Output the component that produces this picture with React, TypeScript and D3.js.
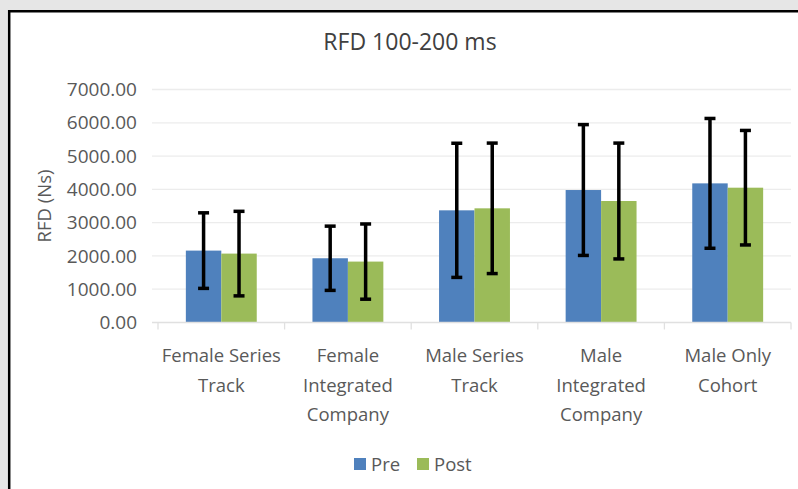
import { useEffect, useRef } from 'react';
import * as d3 from 'd3';

const categories = [
  ['Female Series', 'Track'],
  ['Female', 'Integrated', 'Company'],
  ['Male Series', 'Track'],
  ['Male', 'Integrated', 'Company'],
  ['Male Only', 'Cohort'],
];
const series = ['Pre', 'Post'];
const preMean = [2160, 1930, 3370, 3980, 4180];
const preSd = [1135, 965, 2015, 1965, 1950];
const postMean = [2070, 1830, 3430, 3650, 4050];
const postSd = [1270, 1130, 1960, 1740, 1720];
const yTicks = [0, 1000, 2000, 3000, 4000, 5000, 6000, 7000];

const colors: Record<string, string> = { Pre: '#4F81BD', Post: '#9BBB59' };
const FONT = '"Open Sans", "Noto Sans", sans-serif';

export default function App() {
  const svgRef = useRef<SVGSVGElement>(null);

  useEffect(() => {
    if (!svgRef.current) return;
    const width = 798;
    const height = 489;
    const svg = d3.select(svgRef.current);
    svg.selectAll('*').remove();
    svg.attr('width', width).attr('height', height);

    // page frame: grey band with black border
    svg.append('rect').attr('width', width).attr('height', height).attr('fill', '#e6e6e6');
    svg.append('rect').attr('x', 8).attr('y', 10).attr('width', width).attr('height', height).attr('fill', '#fff');
    svg.append('path')
      .attr('d', `M9.2,${height}V11.2H${width}`)
      .attr('fill', 'none')
      .attr('stroke', '#000')
      .attr('stroke-width', 2.5);

    const keys = categories.map((c) => c.join(' '));
    const x0 = d3.scaleBand<string>().domain(keys).range([158, 791])
      .paddingInner(0.44).paddingOuter(0.22);
    const x1 = d3.scaleBand<string>().domain(series).range([0, x0.bandwidth()]);
    const y = d3.scaleLinear().domain([0, 7000]).range([322.5, 89.5]);

    // gridlines
    svg.append('g')
      .selectAll('line')
      .data(yTicks.slice(1))
      .join('line')
      .attr('x1', 152)
      .attr('x2', 791)
      .attr('y1', (d) => y(d))
      .attr('y2', (d) => y(d))
      .attr('stroke', '#ececec')
      .attr('stroke-width', 1.3);

    // y tick labels
    svg.append('g')
      .selectAll('text')
      .data(yTicks)
      .join('text')
      .attr('x', 137)
      .attr('y', (d) => y(d))
      .attr('dy', '0.35em')
      .attr('text-anchor', 'end')
      .attr('fill', '#595959')
      .style('font-family', FONT)
      .style('font-size', '19px')
      .text((d) => d3.format('.2f')(d));

    const rows = keys.map((k, i) => ({
      key: k,
      values: [
        { s: 'Pre', mean: preMean[i], sd: preSd[i] },
        { s: 'Post', mean: postMean[i], sd: postSd[i] },
      ],
    }));

    const groups = svg.append('g')
      .selectAll('g')
      .data(rows)
      .join('g')
      .attr('transform', (d) => `translate(${x0(d.key)},0)`);

    groups.selectAll('rect')
      .data((d) => d.values)
      .join('rect')
      .attr('x', (d) => x1(d.s)!)
      .attr('width', x1.bandwidth())
      .attr('y', (d) => y(d.mean))
      .attr('height', (d) => y(0) - y(d.mean))
      .attr('fill', (d) => colors[d.s]);

    // x axis baseline and tick marks
    svg.append('line')
      .attr('x1', 152).attr('x2', 791)
      .attr('y1', y(0)).attr('y2', y(0))
      .attr('stroke', '#e0e0e0').attr('stroke-width', 1.3);
    const half = (x0.step() * x0.paddingInner()) / 2;
    const bounds = [...keys.map((k) => x0(k)! - half), 791];
    svg.append('g')
      .selectAll('line')
      .data(bounds)
      .join('line')
      .attr('x1', (d) => d).attr('x2', (d) => d)
      .attr('y1', y(0)).attr('y2', y(0) + 7)
      .attr('stroke', '#e0e0e0').attr('stroke-width', 1.3);

    // error bars
    const err = groups.selectAll('g.err')
      .data((d) => d.values)
      .join('g')
      .attr('class', 'err')
      .attr('transform', (d) => `translate(${x1(d.s)! + x1.bandwidth() / 2},0)`);
    err.append('line')
      .attr('y1', (d) => y(d.mean + d.sd))
      .attr('y2', (d) => y(d.mean - d.sd))
      .attr('stroke', '#000').attr('stroke-width', 3.5);
    err.selectAll('line.cap')
      .data((d) => [d.mean + d.sd, d.mean - d.sd])
      .join('line')
      .attr('class', 'cap')
      .attr('x1', -5.5).attr('x2', 5.5)
      .attr('y1', (v) => y(v)).attr('y2', (v) => y(v))
      .attr('stroke', '#000').attr('stroke-width', 3.5);

    // category labels
    const lab = svg.append('g')
      .selectAll('text')
      .data(categories)
      .join('text')
      .attr('text-anchor', 'middle')
      .attr('fill', '#595959')
      .style('font-family', FONT)
      .style('font-size', '18.5px')
      .attr('transform', (_, i) => `translate(${x0(keys[i])! + x0.bandwidth() / 2},362)`);
    lab.selectAll('tspan')
      .data((d) => d)
      .join('tspan')
      .attr('x', 0)
      .attr('y', (_, j) => j * 29.7)
      .text((d) => d);

    // title
    svg.append('text')
      .attr('x', 410).attr('y', 50)
      .attr('text-anchor', 'middle')
      .attr('fill', '#404040')
      .style('font-family', FONT)
      .style('font-size', '23px')
      .text('RFD 100-200 ms');

    // y axis title
    svg.append('text')
      .attr('transform', `translate(51,${(y(0) + y(7000)) / 2}) rotate(-90)`)
      .attr('text-anchor', 'middle')
      .attr('fill', '#595959')
      .style('font-family', FONT)
      .style('font-size', '18.5px')
      .text('RFD (Ns)');

    // legend
    const legend = svg.append('g')
      .selectAll('g')
      .data(series)
      .join('g')
      .attr('transform', (_, i) => `translate(${354 + i * 63},458)`);
    legend.append('rect')
      .attr('width', 12).attr('height', 12)
      .attr('fill', (d) => colors[d]);
    legend.append('text')
      .attr('x', 17).attr('y', 12.5)
      .attr('fill', '#595959')
      .style('font-family', FONT)
      .style('font-size', '18.5px')
      .text((d) => d);
  }, []);

  return (
    <div style={{ position: 'absolute', left: 0, top: 0 }}>
      <svg ref={svgRef} style={{ display: 'block' }} />
    </div>
  );
}
